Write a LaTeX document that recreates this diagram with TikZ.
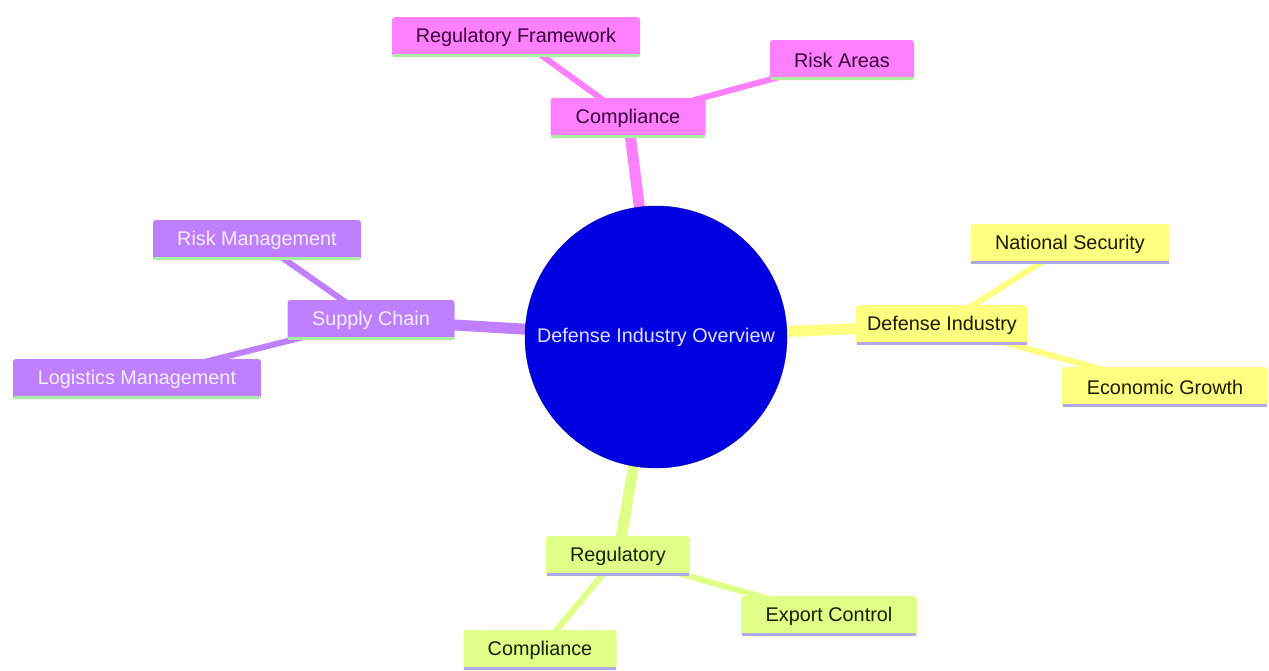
\documentclass[tikz,border=0pt]{standalone}
\usepackage{fontspec}
\setmainfont{Liberation Sans}
\usetikzlibrary{backgrounds}
\definecolor{pinkC}{HTML}{FF80FF}
\definecolor{purpC}{HTML}{BF80FF}
\definecolor{yellC}{HTML}{FFFF80}
\definecolor{limeC}{HTML}{DFFF88}
\definecolor{pinkT}{HTML}{3A003A}
\definecolor{purpT}{HTML}{F4ECFF}
\definecolor{yellT}{HTML}{1A1A00}
\definecolor{limeT}{HTML}{142000}
\definecolor{greenB}{HTML}{A8F0A0}
\definecolor{lavB}{HTML}{B0A8E8}
\definecolor{rootC}{HTML}{0000E0}
\definecolor{rootT}{HTML}{E0E0FF}
\tikzset{
  box/.style={rectangle, rounded corners=3pt, minimum height=40pt, inner sep=0pt, font=\fontsize{19.8}{23}\selectfont},
  pinkbox/.style={box, fill=pinkC, text=pinkT},
  purpbox/.style={box, fill=purpC, text=purpT},
  yellbox/.style={box, fill=yellC, text=yellT},
  limebox/.style={box, fill=limeC, text=limeT},
  thickedge/.style={line width=11pt},
  thinedge/.style={line width=6pt},
}
\newcommand{\bottomline}[2]{\draw[#2, line width=3pt] ([xshift=1pt,yshift=1.5pt]#1.south west) -- ([xshift=-1pt,yshift=1.5pt]#1.south east);}
\begin{document}
\begin{tikzpicture}[x=1pt,y=-1pt]
\useasboundingbox (0,0) rectangle (1269,670);
% root
\node[circle, fill=rootC, draw=rootC!70!black, minimum size=262pt, inner sep=0pt, text=rootT, font=\fontsize{19.8}{23}\selectfont] (root) at (656,337) {Defense Industry Overview};
% pink branch
\node[pinkbox, minimum width=155pt] (comp) at (628,118) {Compliance};
\node[pinkbox, minimum width=248pt] (regfw) at (516,37) {Regulatory Framework};
\node[pinkbox, minimum width=144pt] (riska) at (842,60) {Risk Areas};
% purple branch
\node[purpbox, minimum width=167pt] (supply) at (371,320) {Supply Chain};
\node[purpbox, minimum width=208pt] (riskm) at (257,240) {Risk Management};
\node[purpbox, minimum width=248pt] (logm) at (137,379) {Logistics Management};
% yellow branch
\node[yellbox, minimum width=172pt] (defind) at (942,325) {Defense Industry};
\node[yellbox, minimum width=199pt] (natsec) at (1070,244) {National Security};
\node[yellbox, minimum width=206pt] (econ) at (1165,387) {Economic Growth};
% lime branch
\node[limebox, minimum width=144pt] (reg) at (618,556) {Regulatory};
\node[limebox, minimum width=176pt] (expc) at (829,616) {Export Control};
\node[limebox, minimum width=153pt] (comp2) at (540,650) {Compliance};
% bottom borders
\bottomline{comp}{greenB}
\bottomline{regfw}{greenB}
\bottomline{riska}{greenB}
\bottomline{supply}{greenB}
\bottomline{riskm}{greenB}
\bottomline{logm}{greenB}
\bottomline{defind}{lavB}
\bottomline{natsec}{lavB}
\bottomline{econ}{lavB}
\bottomline{reg}{lavB}
\bottomline{expc}{lavB}
\bottomline{comp2}{lavB}
\begin{scope}[on background layer]
\fill[white] (0,0) rectangle (1269,670);
\draw[thickedge, pinkC] (root.center) -- (comp.center);
\draw[thinedge, pinkC] (comp.center) -- (regfw.center);
\draw[thinedge, pinkC] (comp.center) -- (riska.center);
\draw[thickedge, purpC] (root.center) -- (supply.center);
\draw[thinedge, purpC] (supply.center) -- (riskm.center);
\draw[thinedge, purpC] (supply.center) -- (logm.center);
\draw[thickedge, yellC] (root.center) -- (defind.center);
\draw[thinedge, yellC] (defind.center) -- (natsec.center);
\draw[thinedge, yellC] (defind.center) -- (econ.center);
\draw[thickedge, limeC] (root.center) -- (reg.center);
\draw[thinedge, limeC] (reg.center) -- (expc.center);
\draw[thinedge, limeC] (reg.center) -- (comp2.center);
\end{scope}
\end{tikzpicture}
\end{document}
